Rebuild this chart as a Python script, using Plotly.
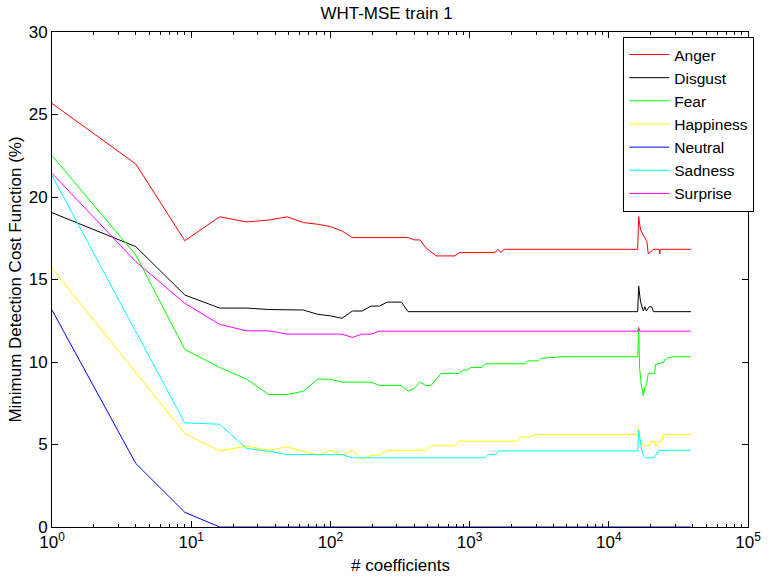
import plotly.graph_objects as go

# ---- data ----
anger_x = [1, 4, 9, 16, 25, 36, 49, 64, 81, 100, 121, 144, 361, 400, 441, 484, 576, 784, 841,
           1521, 1600, 1681, 1764, 16129, 16384, 16900, 17700, 18370, 18780, 19200, 19720, 20840,
           23000, 23210, 23500, 38900]
anger_y = [25.67, 22.0, 17.35, 18.8, 18.49, 18.6, 18.8, 18.45, 18.35, 18.2, 17.94, 17.54, 17.54, 17.4,
           17.4, 16.93, 16.43, 16.43, 16.63, 16.63, 16.83, 16.63, 16.83, 16.83, 18.81, 18.0, 17.7, 17.4,
           17.3, 16.57, 16.62, 16.83, 16.83, 16.55, 16.83, 16.83]

disgust_x = [1, 4, 9, 16, 25, 36, 64, 81, 100, 121, 144, 169, 196, 225, 256, 324, 361, 16129, 16384,
             16900, 17700, 18160, 18600, 19530, 20270, 20940, 38900]
disgust_y = [19.05, 16.99, 14.06, 13.27, 13.27, 13.18, 13.15, 12.89, 12.8, 12.65, 13.09, 13.09, 13.39,
             13.39, 13.63, 13.63, 13.05, 13.05, 14.6, 13.65, 13.09, 13.35, 13.09, 13.35, 13.35, 13.05, 13.05]

fear_x = [1, 4, 9, 16, 25, 36, 49, 64, 81, 100, 121, 196, 225, 324, 361, 400, 441, 484, 529, 625, 841,
          900, 961, 1024, 1225, 1296, 2500, 2601, 3136, 3249, 4624, 16129, 16384, 16641, 17161, 17689,
          18225, 18780, 19200, 21380, 21620, 24770, 25170, 26890, 29660, 38900]
fear_y = [22.51, 16.49, 10.76, 9.67, 8.96, 8.03, 8.03, 8.23, 8.96, 8.96, 8.78, 8.78, 8.58, 8.58, 8.23,
          8.4, 8.78, 8.58, 8.58, 9.31, 9.31, 9.51, 9.51, 9.67, 9.67, 9.89, 9.89, 10.07, 10.07, 10.22,
          10.32, 10.32, 12.04, 9.6, 8.6, 7.95, 8.5, 8.7, 9.31, 9.31, 9.85, 9.99, 10.12, 10.26, 10.32, 10.32]

happy_x = [1, 4, 9, 16, 25, 36, 49, 64, 81, 100, 121, 144, 169, 196, 225, 256, 484, 529, 784, 841,
           2209, 2304, 2704, 2916, 15876, 16384, 16750, 17220, 17990, 19720, 20040, 21380, 21730,
           22810, 23870, 24640, 38900]
happy_y = [15.68, 9.4, 5.67, 4.61, 4.9, 4.65, 4.85, 4.59, 4.35, 4.65, 4.35, 4.65, 4.09, 4.35, 4.35,
           4.65, 4.65, 4.92, 4.92, 5.2, 5.2, 5.46, 5.46, 5.6, 5.6, 6.0, 5.06, 5.14, 4.92, 4.92, 5.18,
           5.18, 4.85, 5.18, 5.18, 5.6, 5.6]

neutral_x = [1, 4, 9, 16, 38900]
neutral_y = [13.15, 3.85, 0.89, 0.0, 0.0]

sad_x = [1, 4, 9, 16, 25, 36, 49, 121, 144, 1296, 1369, 1521, 1600, 16129, 16384, 17424, 18370,
         21180, 22220, 22960, 38900]
sad_y = [21.3, 11.83, 6.31, 6.23, 4.76, 4.59, 4.39, 4.39, 4.19, 4.19, 4.39, 4.39, 4.61, 4.61, 5.87,
         4.45, 4.19, 4.19, 4.49, 4.65, 4.65]

surprise_x = [1, 4, 9, 16, 25, 36, 49, 121, 144, 169, 196, 225, 16129, 16384, 16641, 38900]
surprise_y = [21.44, 16.08, 13.56, 12.28, 11.89, 11.89, 11.69, 11.69, 11.49, 11.69, 11.69, 11.87,
              11.87, 12.1, 11.87, 11.87]

series_names = ["Anger", "Disgust", "Fear", "Happiness", "Neutral", "Sadness", "Surprise"]
series_x = [anger_x, disgust_x, fear_x, happy_x, neutral_x, sad_x, surprise_x]
series_y = [anger_y, disgust_y, fear_y, happy_y, neutral_y, sad_y, surprise_y]
series_colors = ["#FF0000", "#000000", "#00FF00", "#FFFF00", "#0000FF", "#00FFFF", "#FF00FF"]

x_tickvals = [1, 10, 100, 1000, 10000, 100000]
x_ticktext = ["10<sup>0</sup>", "10<sup>1</sup>", "10<sup>2</sup>", "10<sup>3</sup>",
              "10<sup>4</sup>", "10<sup>5</sup>"]
x_minor = [m * 10 ** d for d in range(5) for m in range(2, 10)]
y_tickvals = [0, 5, 10, 15, 20, 25, 30]

FONT = "Liberation Sans, Arial, Helvetica, sans-serif"

fig = go.Figure()
for name, xs, ys, c in zip(series_names, series_x, series_y, series_colors):
    fig.add_trace(go.Scatter(x=xs, y=ys, mode="lines", name=name,
                             line=dict(color=c, width=1)))

fig.update_layout(
    width=773, height=577,
    margin=dict(l=52, r=16, t=32, b=50),
    paper_bgcolor="white", plot_bgcolor="white",
    font=dict(family=FONT, size=17, color="black"),
    title=dict(text="WHT-MSE train 1", x=0.5, xanchor="center", y=1 - 13 / 577,
               yanchor="middle", font=dict(size=17)),
    showlegend=True,
    legend=dict(x=1.009, xanchor="right", y=0.99, yanchor="top",
                bgcolor="white", bordercolor="black", borderwidth=1,
                font=dict(size=15.5), tracegroupgap=0, itemwidth=40),
)

fig.update_xaxes(type="log", range=[0, 5], tickmode="array", tickvals=x_tickvals,
                 ticktext=x_ticktext, ticks="inside", ticklen=6, tickcolor="black",
                 showline=True, linecolor="black", linewidth=1, mirror="ticks",
                 showgrid=False, zeroline=False, layer="below traces",
                 minor=dict(tickmode="array", tickvals=x_minor, ticks="inside", ticklen=3,
                            tickcolor="black", showgrid=False))
fig.update_yaxes(range=[0, 30], tickmode="array", tickvals=y_tickvals, ticks="inside",
                 ticklen=6, tickcolor="black", showline=True, linecolor="black", linewidth=1,
                 mirror="ticks", showgrid=False, zeroline=False, layer="below traces")

fig.add_annotation(text="# coefficients", xref="paper", yref="paper", x=0.5, y=-0.0775,
                   xanchor="center", yanchor="middle", showarrow=False, font=dict(size=17))
fig.add_annotation(text="Minimum Detection Cost Function (%)", xref="paper", yref="paper",
                   x=-0.053, y=0.5, xanchor="center", yanchor="middle", textangle=-90,
                   showarrow=False, font=dict(size=17))

fig.write_html("out.html")
